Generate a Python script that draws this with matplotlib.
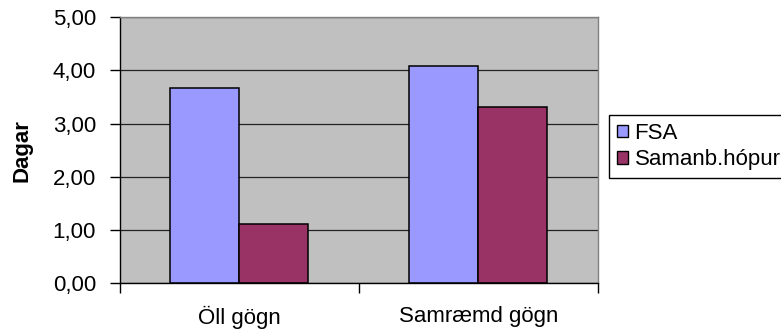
import matplotlib
matplotlib.use('Agg')
import matplotlib.pyplot as plt
import matplotlib.patches as mpatches
import numpy as np

categories = ['Öll gögn', 'Samræmd gögn']
fsa = [3.67, 4.08]
samanb = [1.12, 3.31]
series_names = ['FSA', 'Samanb.hópur']
ytick_values = [0, 1, 2, 3, 4, 5]
ytick_labels = ['0,00', '1,00', '2,00', '3,00', '4,00', '5,00']

plt.rcParams['font.family'] = ['Liberation Sans', 'DejaVu Sans']
plt.rcParams['font.size'] = 16

fig = plt.figure(figsize=(7.81, 3.35), dpi=100)
ax = fig.add_axes([119.5 / 781, 1 - 283.3 / 335, (598 - 119.5) / 781, (283.3 - 17) / 335])

col_fsa = '#9999FF'
col_sam = '#993366'
width = 0.288
x = np.arange(len(categories))

ax.set_facecolor('#C0C0C0')
ax.set_axisbelow(True)
ax.yaxis.grid(True, color='#222222', linewidth=0.9)

ax.bar(x - width / 2, fsa, width, color=col_fsa, edgecolor='black', linewidth=1.1)
ax.bar(x + width / 2, samanb, width, color=col_sam, edgecolor='black', linewidth=1.1)

ax.set_xlim(-0.5, 1.5)
ax.set_ylim(0, 5)
ax.set_yticks(ytick_values)
ax.set_yticklabels(ytick_labels)
ax.set_xticks(x)
ax.set_xticklabels(categories)
ax.tick_params(axis='x', length=0, pad=16)
ax.set_xticks([-0.5, 0.5, 1.5], minor=True)
ax.tick_params(axis='x', which='minor', length=7, width=1, color='black', direction='out')
ax.tick_params(axis='y', length=7, width=1, color='black', direction='out', pad=10)

for side in ['top', 'right']:
    ax.spines[side].set_color('#808080')
    ax.spines[side].set_linewidth(1)
for side in ['left', 'bottom']:
    ax.spines[side].set_color('black')
    ax.spines[side].set_linewidth(1)

ax.set_ylabel('Dagar', fontweight='bold')
ax.yaxis.set_label_coords((33 - 119.5) / 478.5, 0.5)

handles = [mpatches.Patch(facecolor=col_fsa, edgecolor='black', linewidth=1, label=series_names[0]),
           mpatches.Patch(facecolor=col_sam, edgecolor='black', linewidth=1, label=series_names[1])]
leg = fig.legend(handles=handles, loc='upper left', bbox_to_anchor=(609 / 781, 1 - 115 / 335),
                 fancybox=False, framealpha=1, edgecolor='black', handlelength=0.5,
                 handleheight=0.5, handletextpad=0.3, borderpad=0.35, labelspacing=0.25,
                 borderaxespad=0)
leg.get_frame().set_linewidth(1)

fig.savefig('out.png', dpi=100)
